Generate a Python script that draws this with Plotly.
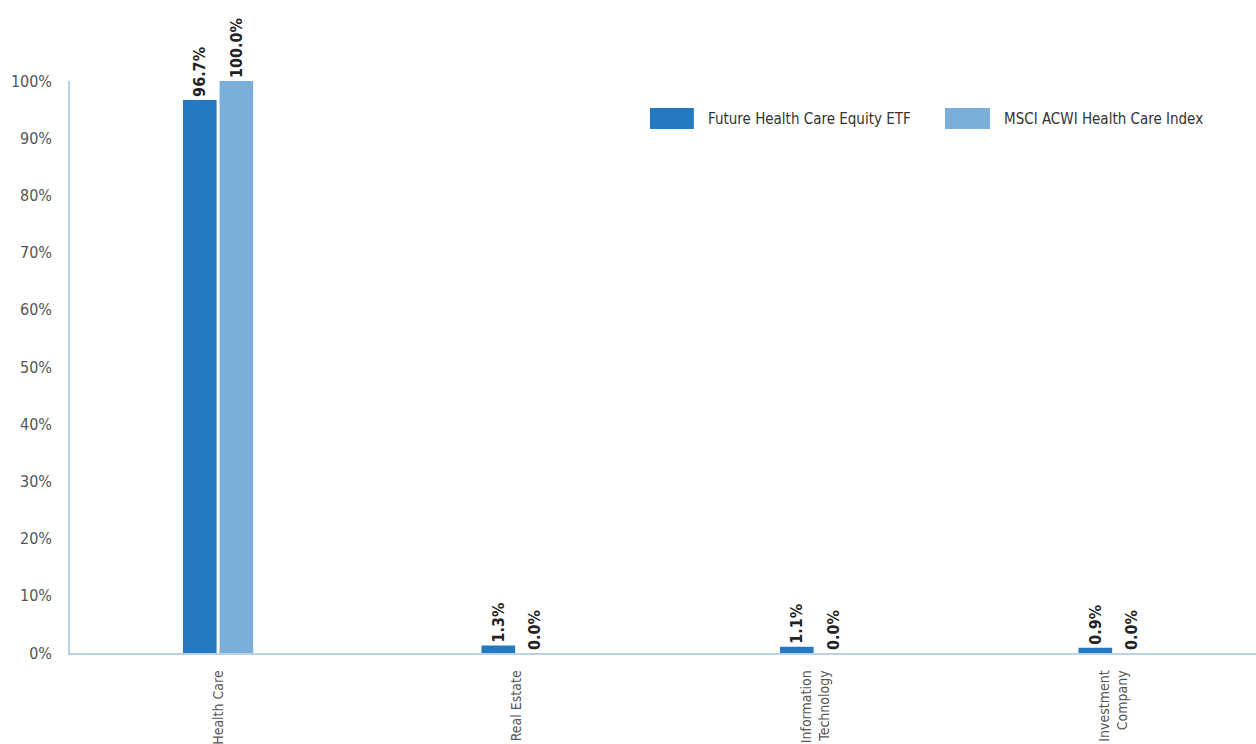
import plotly.graph_objects as go

# Sector weights (%)
categories = ["Health Care", "Real Estate", "Information<br>Technology", "Investment<br>Company"]
fund_name = "Future Health Care Equity ETF"
index_name = "MSCI ACWI Health Care Index"
fund_values = [96.7, 1.3, 1.1, 0.9]
index_values = [100.0, 0.0, 0.0, 0.0]
y_ticks = [0, 10, 20, 30, 40, 50, 60, 70, 80, 90, 100]
y_tick_labels = [f"{v}%" for v in y_ticks]

FONT = "DejaVu Sans Condensed, Liberation Sans Narrow, sans-serif"
DARK = "#2479c0"
LIGHT = "#7bafda"
AXIS = "#b9d2ea"

fig = go.Figure()
for name, vals, color in [(fund_name, fund_values, DARK), (index_name, index_values, LIGHT)]:
    fig.add_trace(go.Bar(
        x=categories, y=vals, name=name,
        marker=dict(color=color, line=dict(width=0)),
        text=[f"{v:.1f}%" for v in vals],
        textposition="outside", textangle=-90,
        textfont=dict(family=FONT, size=16, color="#222222", weight="bold"),
        cliponaxis=False, constraintext="none",
        showlegend=False,
    ))

# Legend drawn as swatches with labels
legend_items = [(fund_name, DARK, 0.489, 0.526), (index_name, LIGHT, 0.7378, 0.7757)]
for name, color, x0, x1 in legend_items:
    fig.add_shape(type="rect", xref="paper", yref="paper",
                  x0=x0, x1=x1, y0=0.916, y1=0.953,
                  fillcolor=color, line=dict(width=0))
    fig.add_annotation(xref="paper", yref="paper", x=x1 + 0.010, y=0.934,
                       xanchor="left", yanchor="middle", showarrow=False,
                       text=name, font=dict(family=FONT, size=15, color="#333333"))

fig.update_layout(
    width=1256, height=744,
    margin=dict(l=70, r=0, t=81, b=91),
    paper_bgcolor="white", plot_bgcolor="white",
    barmode="group", bargap=0.755, bargroupgap=0.08,
    font=dict(family=FONT, color="#555555"),
    xaxis=dict(
        range=[-0.496, 3.477], automargin=False,
        showgrid=False, zeroline=False,
        showline=True, linecolor=AXIS, linewidth=1.5,
        tickangle=-90, ticks="", ticklabelstandoff=10,
        tickfont=dict(family=FONT, size=14, color="#555555"),
    ),
    yaxis=dict(
        range=[0, 100], tickvals=y_ticks, ticktext=y_tick_labels, automargin=False,
        showgrid=False, zeroline=False,
        showline=True, linecolor=AXIS, linewidth=1.5,
        ticks="", ticklabelstandoff=13,
        tickfont=dict(family=FONT, size=16, color="#555555"),
    ),
)

fig.write_html("out.html")
